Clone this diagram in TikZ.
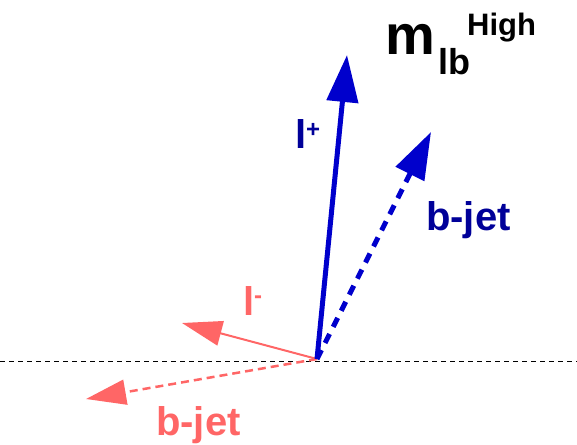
\documentclass[tikz,border=0pt]{standalone}
\usepackage{fontspec}
\setmainfont{Liberation Sans}
\usetikzlibrary{arrows.meta}
\definecolor{vblue}{HTML}{0000CC}
\definecolor{tblue}{HTML}{000099}
\definecolor{vred}{HTML}{FF6666}
\tikzset{
  bigtip/.style={-{Triangle[length=47pt,width=31pt]}},
  smalltip/.style={-{Triangle[length=40pt,width=25pt]}},
  lbl/.style={inner sep=0pt,font=\bfseries\fontsize{40}{42}\selectfont},
  sup/.style={inner sep=0pt,font=\bfseries\fontsize{24}{26}\selectfont},
}
\begin{document}
\begin{tikzpicture}[x=1pt,y=-1pt]
\useasboundingbox (0,0) rectangle (577,444);
% reference line
\coordinate (L) at (0,361);
\coordinate (R) at (577,361);
\draw[black,line width=1pt,dash pattern=on 5pt off 4pt] (L) -- (R);
% origin and tips
\coordinate (O) at (317,359);
\coordinate (lp) at (347,55);
\coordinate (bb) at (431,132);
\coordinate (lm) at (182,323);
\coordinate (br) at (86,399);
\draw[vred,line width=2.5pt,dash pattern=on 8pt off 5pt,smalltip] (O) -- (br);
\draw[vred,line width=2pt,smalltip] (O) -- (lm);
\draw[vblue,line width=5pt,dash pattern=on 10pt off 8pt,bigtip] (O) -- (bb);
\draw[vblue,line width=5pt,bigtip] (O) -- (lp);
% labels
\node[lbl,tblue,anchor=base west] (tlp) at (295,148) {l};
\node[sup,tblue,anchor=base west] (tlps) at (306,137) {+};
\node[lbl,tblue,anchor=base west] (tbb) at (426,230) {b-jet};
\node[lbl,vred,anchor=base west] (tlm) at (243,315) {l};
\node[sup,vred,anchor=base west] (tlms) at (254,303) {-};
\node[lbl,vred,anchor=base west] (tbr) at (156,435) {b-jet};
% title
\node[inner sep=0pt,anchor=base west,font=\bfseries\fontsize{56}{58}\selectfont] (tm) at (385,55) {m};
\node[inner sep=0pt,anchor=base west,font=\bfseries\fontsize{36}{38}\selectfont] (tlb) at (438,74) {lb};
\node[inner sep=0pt,anchor=base west,font=\bfseries\fontsize{31}{33}\selectfont] (thigh) at (467,36) {High};
\end{tikzpicture}
\end{document}
